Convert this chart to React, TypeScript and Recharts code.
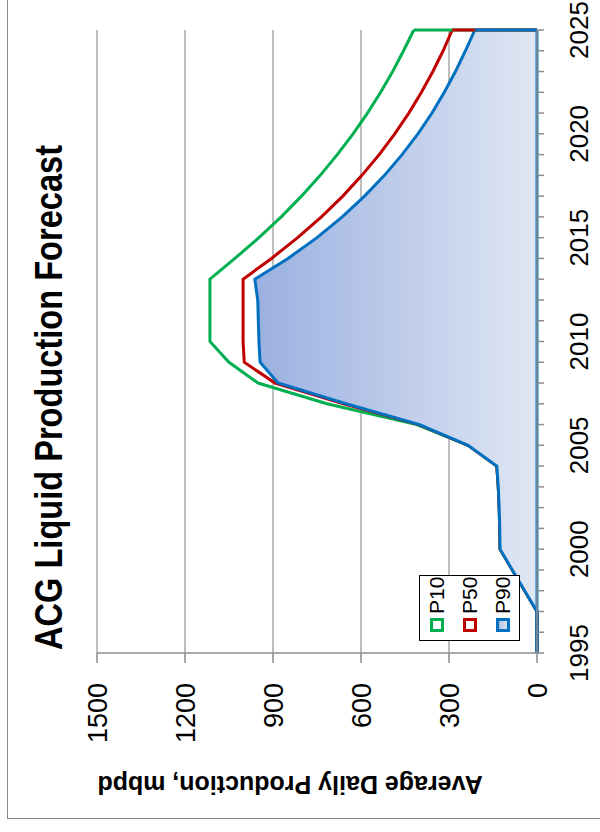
import { AreaChart, Area, XAxis, YAxis, CartesianGrid, ReferenceLine, Legend } from 'recharts';

// yearly average liquid production, mbpd
const years = [
  1995, 1996, 1997, 1998, 1999, 2000, 2001, 2002, 2003, 2004, 2005, 2006, 2007, 2008, 2009, 2010,
  2011, 2012, 2013, 2014, 2015, 2016, 2017, 2018, 2019, 2020, 2021, 2022, 2023, 2024, 2025,
];
const p10 = [
  0, 0, 0, 42, 84, 126, 127, 129, 132, 137, 235, 410, 716, 951, 1050, 1115,
  1115, 1115, 1115, 1030, 948, 872, 803, 739, 681, 627, 578, 533, 492, 455, 420,
];
const p50 = [
  0, 0, 0, 42, 84, 126, 127, 129, 132, 137, 235, 402, 660, 893, 998, 1002,
  1002, 1002, 1002, 905, 816, 735, 662, 597, 538, 485, 437, 394, 355, 320, 289,
];
const p90 = [
  0, 0, 0, 42, 84, 126, 127, 129, 132, 137, 235, 400, 651, 883, 944, 948,
  950, 952, 962, 849, 750, 664, 588, 520, 460, 406, 358, 316, 278, 244, 212,
];
const valueTicks = [0, 300, 600, 900, 1200, 1500];
const labelYears = [1995, 2000, 2005, 2010, 2015, 2020, 2025];

const series = [
  { key: 'P10', values: p10, color: '#00B050' },
  { key: 'P50', values: p50, color: '#C00000' },
  { key: 'P90', values: p90, color: '#0070C0' },
];

const data = years.map((year, i) => ({ year, P10: p10[i], P50: p50[i], P90: p90[i] }));
const firstYear = years[0];
const lastYear = years[years.length - 1];
const font = '"Liberation Sans", Arial, sans-serif';

function LegendBox({ payload }: any) {
  const items = payload || [];
  return (
    <div
      style={{
        width: 66,
        height: 101,
        boxSizing: 'border-box',
        border: '1px solid #000',
        background: '#fff',
        fontFamily: font,
        fontSize: 21,
        color: '#000',
      }}
    >
      {items.map((it: any) => (
        <div key={it.value} style={{ height: 33, display: 'flex', alignItems: 'center', paddingLeft: 8 }}>
          <span
            style={{
              display: 'inline-block',
              width: 14,
              height: 14,
              boxSizing: 'border-box',
              border: `3px solid ${it.color}`,
              background: it.value === 'P90' ? 'linear-gradient(#b3c4e8, #dde4f3)' : '#fff',
            }}
          />
          <span style={{ marginLeft: 4, lineHeight: 1 }}>{it.value}</span>
        </div>
      ))}
    </div>
  );
}

export default function App() {
  return (
    <div
      style={{
        position: 'absolute',
        left: 0,
        top: 0,
        width: 832,
        height: 600,
        overflow: 'hidden',
        background: '#fff',
        transformOrigin: '0 0',
        transform: 'translate(0px, 832px) rotate(-90deg)',
      }}
    >
      <div
        style={{
          position: 'absolute',
          left: 13,
          top: 7,
          right: -10,
          bottom: -10,
          borderLeft: '1px solid #8a8a8a',
          borderTop: '1px solid #8a8a8a',
        }}
      />
      <AreaChart width={832} height={600} data={data} margin={{ top: 97, right: 30, bottom: 3, left: 79 }}>
        <defs>
          <linearGradient id="p90Fill" x1="0" y1="0" x2="0" y2="1">
            <stop offset="0%" stopColor="#9ab0e0" />
            <stop offset="100%" stopColor="#e0e7f4" />
          </linearGradient>
        </defs>
        <CartesianGrid vertical={false} stroke="#a8a8a8" strokeWidth={1.5} />
        <XAxis
          type="number"
          dataKey="year"
          domain={[firstYear, lastYear]}
          ticks={years}
          interval={0}
          tickFormatter={(y: number) => (labelYears.includes(y) ? String(y) : '')}
          tick={{ fill: '#000', fontSize: 26, fontFamily: font }}
          tickLine={{ stroke: '#8c8c8c', strokeWidth: 1.5 }}
          axisLine={{ stroke: '#8c8c8c', strokeWidth: 1.5 }}
          tickSize={7}
          tickMargin={26}
          height={60}
        />
        <YAxis
          type="number"
          domain={[0, 1500]}
          ticks={valueTicks}
          interval={0}
          tick={{ fill: '#000', fontSize: 27, fontFamily: font }}
          tickLine={{ stroke: '#8c8c8c', strokeWidth: 1.5 }}
          axisLine={{ stroke: '#8c8c8c', strokeWidth: 1.5 }}
          tickSize={10}
          tickMargin={20}
          width={100}
        />
        <Legend
          layout="vertical"
          align="center"
          verticalAlign="middle"
          content={<LegendBox />}
          wrapperStyle={{ left: 191, top: 419, width: 66, height: 101 }}
        />
        <Area
          type="linear"
          dataKey="P10"
          stroke="#00B050"
          strokeWidth={3}
          fill="none"
          dot={false}
          activeDot={false}
          isAnimationActive={false}
        />
        <Area
          type="linear"
          dataKey="P50"
          stroke="#C00000"
          strokeWidth={3}
          fill="none"
          dot={false}
          activeDot={false}
          isAnimationActive={false}
        />
        <Area
          type="linear"
          dataKey="P90"
          stroke="#0070C0"
          strokeWidth={3}
          fill="url(#p90Fill)"
          fillOpacity={1}
          dot={false}
          activeDot={false}
          isAnimationActive={false}
        />
        {/* closing edges of each area outline at the end year, then the shared baseline */}
        {series.map((s) => (
          <ReferenceLine
            key={s.key}
            segment={[
              { x: lastYear, y: s.values[s.values.length - 1] },
              { x: lastYear, y: 0 },
            ]}
            stroke={s.color}
            strokeWidth={3}
            ifOverflow="visible"
          />
        ))}
        <ReferenceLine
          segment={[
            { x: firstYear, y: 0 },
            { x: lastYear, y: 0 },
          ]}
          stroke="#0070C0"
          strokeWidth={3}
          ifOverflow="visible"
        />
      </AreaChart>
      <svg
        width={832}
        height={600}
        style={{ position: 'absolute', left: 0, top: 0, pointerEvents: 'none', fontFamily: font }}
      >
        <text x={182} y={62} fontSize={39} fontWeight="bold" textLength={505} lengthAdjust="spacingAndGlyphs">
          ACG Liquid Production Forecast
        </text>
        <text transform="translate(56,290) rotate(-90)" textAnchor="middle" fontSize={25} fontWeight="bold">
          Average Daily Production, mbpd
        </text>
      </svg>
    </div>
  );
}
